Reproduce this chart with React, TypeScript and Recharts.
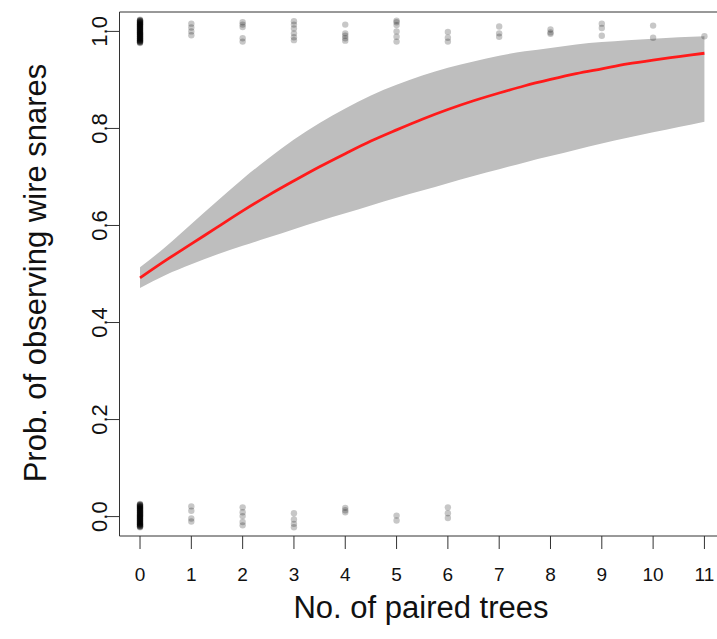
import {
  Area,
  ComposedChart,
  Line,
  ReferenceArea,
  Scatter,
  XAxis,
  YAxis,
} from "recharts";

const FONT = '"Liberation Sans", Arial, Helvetica, sans-serif';
const INK = "#111";

// fitted curve + 95% band, sampled every half tree
const curveX = [0, 0.5, 1, 1.5, 2, 2.5, 3, 3.5, 4, 4.5, 5, 5.5, 6, 6.5, 7, 7.5, 8, 8.5, 9, 9.5, 10, 10.5, 11];
const fitP = [
  0.492, 0.528, 0.562, 0.596, 0.63, 0.662, 0.692, 0.721, 0.748, 0.774, 0.797, 0.819,
  0.839, 0.857, 0.873, 0.888, 0.901, 0.913, 0.923, 0.933, 0.941, 0.948, 0.955,
];
const upperP = [
  0.514, 0.556, 0.603, 0.65, 0.696, 0.738, 0.777, 0.811, 0.841, 0.868, 0.89, 0.909,
  0.925, 0.938, 0.95, 0.959, 0.966, 0.973, 0.978, 0.982, 0.985, 0.988, 0.99,
];
const lowerP = [
  0.471, 0.498, 0.52, 0.54, 0.558, 0.575, 0.592, 0.609, 0.625, 0.641, 0.657, 0.672,
  0.687, 0.702, 0.716, 0.73, 0.743, 0.756, 0.769, 0.781, 0.792, 0.803, 0.814,
];

// observed sites, jittered vertically around 1 (snares seen) and 0 (none)
const treeCounts = [0, 1, 2, 3, 4, 5, 6, 7, 8, 9, 10, 11];
const presentY: number[][] = [
  [
    0.976, 0.978, 0.98, 0.982, 0.984, 0.986, 0.988, 0.99, 0.992, 0.994, 0.996, 0.998,
    1.0, 1.002, 1.004, 1.006, 1.008, 1.01, 1.012, 1.014, 1.016, 1.018, 1.02, 1.022, 1.024,
    0.977, 0.979, 0.981, 0.983, 0.985, 0.987, 0.989, 0.991, 0.993, 0.995, 0.997, 0.999,
    1.001, 1.003, 1.005, 1.007, 1.009, 1.011, 1.013, 1.015, 1.017, 1.019, 1.021, 1.023,
    0.978, 0.982, 0.986, 0.99, 0.994, 0.998, 1.002, 1.006, 1.01, 1.014, 1.018, 1.022,
  ],
  [1.016, 1.008, 1.0, 0.992],
  [1.019, 1.014, 1.009, 0.986, 0.979],
  [1.021, 1.014, 1.006, 0.996, 0.988, 0.982],
  [1.014, 0.996, 0.991, 0.986, 0.981],
  [1.022, 1.019, 1.013, 1.0, 0.989, 0.979],
  [0.999, 0.987, 0.979],
  [1.01, 0.996, 0.989],
  [1.004, 0.998, 0.995],
  [1.016, 1.007, 0.991],
  [1.012, 0.987],
  [0.99],
];
const absentY: number[][] = [
  [
    -0.022, -0.02, -0.018, -0.016, -0.014, -0.012, -0.01, -0.008, -0.006, -0.004, -0.002,
    0.0, 0.002, 0.004, 0.006, 0.008, 0.01, 0.012, 0.014, 0.016, 0.018, 0.02, 0.022, 0.024,
    0.026, -0.021, -0.019, -0.017, -0.015, -0.013, -0.011, -0.009, -0.007, -0.005, -0.003,
    -0.001, 0.001, 0.003, 0.005, 0.007, 0.009, 0.011, 0.013, 0.015, 0.017, 0.019, 0.021,
    0.023, 0.025, -0.02, -0.016, -0.012, -0.008, -0.004, 0.0, 0.004, 0.008, 0.012, 0.016,
    0.02, 0.024,
  ],
  [0.021, 0.012, -0.004, -0.01],
  [0.019, 0.009, 0.001, -0.011, -0.018],
  [0.007, -0.006, -0.015, -0.022],
  [0.018, 0.013, 0.009],
  [0.002, -0.008],
  [0.019, 0.007, -0.003],
];
const probTicks = [0, 0.2, 0.4, 0.6, 0.8, 1];

const curve = curveX.map((x, i) => ({
  x,
  fit: fitP[i],
  band: [lowerP[i], upperP[i]],
}));

const observations = [
  ...presentY.flatMap((ys, i) => ys.map((y) => ({ x: treeCounts[i], y }))),
  ...absentY.flatMap((ys, i) => ys.map((y) => ({ x: treeCounts[i], y }))),
];

const XTick = (props: any) => (
  <text
    x={props.x}
    y={581}
    textAnchor="middle"
    fontFamily={FONT}
    fontSize={19}
    fill={INK}
  >
    {props.payload.value}
  </text>
);

const YTick = (props: any) => (
  <text
    transform={`translate(99, ${props.y}) rotate(-90)`}
    dy="0.36em"
    textAnchor="middle"
    fontFamily={FONT}
    fontSize={22}
    fill={INK}
  >
    {Number(props.payload.value).toFixed(1)}
  </text>
);

const Dot = (props: any) => (
  <circle cx={props.cx} cy={props.cy} r={3.2} fill="rgba(0,0,0,0.22)" />
);

export default function App() {
  return (
    <div
      style={{
        position: "fixed",
        left: 0,
        top: 0,
        width: 717,
        height: 639,
        overflow: "hidden",
        background: "#fff",
      }}
    >
      <ComposedChart
        width={740}
        height={639}
        data={curve}
        margin={{ top: 12, right: 13, bottom: 43, left: 39.5 }}
      >
        <XAxis
          type="number"
          dataKey="x"
          domain={[-0.4, 11.44]}
          ticks={treeCounts}
          interval={0}
          allowDataOverflow
          axisLine={false}
          tickLine={{ stroke: "#333" }}
          tickSize={13}
          tick={<XTick />}
          height={60}
        />
        <YAxis
          type="number"
          domain={[-0.04, 1.04]}
          ticks={probTicks}
          interval={0}
          allowDataOverflow
          axisLine={false}
          tickLine={{ stroke: "#333" }}
          tickSize={13}
          tick={<YTick />}
          width={80}
        />
        <Area
          dataKey="band"
          type="monotone"
          stroke="none"
          fill="#bebebe"
          fillOpacity={1}
          dot={false}
          activeDot={false}
          isAnimationActive={false}
        />
        <Line
          dataKey="fit"
          type="monotone"
          stroke="#ff1a1a"
          strokeWidth={2.8}
          dot={false}
          activeDot={false}
          isAnimationActive={false}
        />
        <Scatter
          data={observations}
          dataKey="y"
          shape={<Dot />}
          isAnimationActive={false}
        />
        <ReferenceArea
          x1={-0.4}
          x2={11.44}
          y1={-0.04}
          y2={1.04}
          fill="none"
          stroke="#333"
          strokeWidth={1}
        />
      </ComposedChart>
      <svg
        width={717}
        height={639}
        style={{ position: "absolute", left: 0, top: 0, pointerEvents: "none" }}
      >
        <text
          x={421}
          y={618}
          textAnchor="middle"
          fontFamily={FONT}
          fontSize={31}
          fill={INK}
        >
          No. of paired trees
        </text>
        <text
          transform="translate(35, 273) rotate(-90)"
          dy="0.36em"
          textAnchor="middle"
          fontFamily={FONT}
          fontSize={31}
          fill={INK}
        >
          Prob. of observing wire snares
        </text>
      </svg>
    </div>
  );
}
